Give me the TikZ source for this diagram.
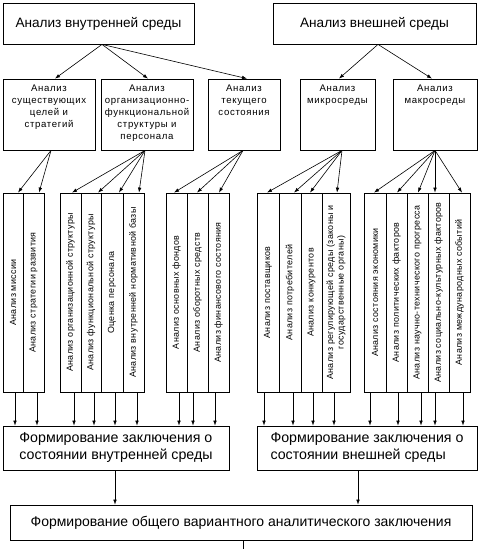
\documentclass[tikz,border=0pt]{standalone}
\usepackage{fontspec}
\setmainfont{Liberation Sans}
\newfontfamily\spacedA[LetterSpace=7]{Liberation Sans}
\newfontfamily\spacedB[LetterSpace=4]{Liberation Sans}
\usetikzlibrary{arrows.meta}
\tikzset{
  box/.style={draw=black, line width=0.8pt, fill=white, inner sep=0pt},
  toptext/.style={font=\fontsize{13.6}{15}\selectfont},
  midtext/.style={font=\spacedA\fontsize{9.6}{12}\selectfont, align=center, inner sep=2pt, anchor=north, yshift=-4pt},
  coltext/.style={font=\spacedB\fontsize{8.9}{10.5}\selectfont, rotate=90, align=center, inner sep=0pt},
  bottext/.style={font=\fontsize{14.2}{17}\selectfont, align=left},
  arr/.style={line width=0.6pt, -{Latex[length=5pt,width=3.6pt]}},
  ln/.style={line width=0.6pt},
}
\begin{document}
\begin{tikzpicture}[x=1pt,y=-1pt]
\useasboundingbox (0,0) rectangle (482,549);
% top
\node[box, minimum width=191, minimum height=41, toptext] (vn) at (98.5,23.5) {Анализ внутренней среды};
\node[box, minimum width=203, minimum height=41, toptext] (vs) at (374.5,23.5) {Анализ внешней среды};
% second row
\node[box, minimum width=92, minimum height=71] (b1) at (49,114.5) {};
\node[midtext] (b1t) at (b1.north) {Анализ\\существующих\\целей и\\стратегий};
\node[box, minimum width=92, minimum height=71] (b2) at (147,114.5) {};
\node[midtext] (b2t) at (b2.north) {Анализ\\организационно-\\функциональной\\структуры и\\персонала};
\node[box, minimum width=72, minimum height=71] (b3) at (244,114.5) {};
\node[midtext] (b3t) at (b3.north) {Анализ\\текущего\\состояния};
\node[box, minimum width=75, minimum height=71] (b4) at (337.5,114.5) {};
\node[midtext] (b4t) at (b4.north) {Анализ\\микросреды};
\node[box, minimum width=84, minimum height=71] (b5) at (435,114.5) {};
\node[midtext] (b5t) at (b5.north) {Анализ\\макросреды};
% columns (y from 193 to 392, center 292.5, height 199)
\def\cy{292.5}
\newcommand\colbox[4]{% name, x1, x2, text
  \pgfmathsetmacro\cw{#3-#2}\pgfmathsetmacro\cx{(#2+#3)/2}
  \node[box, minimum width=\cw, minimum height=199] (#1) at (\cx,\cy) {};
  \node[coltext] (#1t) at (#1.center) {#4};}
\colbox{a1}{3}{23}{Анализ миссии}
\colbox{a2}{23}{44}{Анализ стратегии развития}
\colbox{c1}{60}{81}{Анализ организационной структуры}
\colbox{c2}{81}{101}{Анализ функциональной структуры}
\colbox{c3}{101}{123}{Оценка персонала}
\colbox{c4}{123}{144}{Анализ внутренней нормативной базы}
\colbox{d1}{166}{187}{Анализ основных фондов}
\colbox{d2}{187}{208}{Анализ оборотных средств}
\colbox{d3}{208}{229}{Анализ финансового состояния}
\colbox{e1}{257}{279}{Анализ поставщиков}
\colbox{e2}{279}{301}{Анализ потребителей}
\colbox{e3}{301}{322}{Анализ конкурентов}
\colbox{e4}{322}{350}{Анализ регулирующей среды (законы и\\государственные органы)}
\colbox{f1}{364}{386}{Анализ состояния экономики}
\colbox{f2}{386}{407}{Анализ политических факторов}
\colbox{f3}{407}{428}{Анализ научно-технического прогресса}
\colbox{f4}{428}{449}{Анализ социально-культурных факторов}
\colbox{f5}{449}{470}{Анализ международных событий}
% conclusions
\node[box, minimum width=226, minimum height=44] (zl) at (116,448) {};
\node[bottext] (zlt) at (zl.center) {Формирование заключения о\\состоянии внутренней среды};
\node[box, minimum width=220, minimum height=44] (zr) at (367,448) {};
\node[bottext] (zrt) at (zr.center) {Формирование заключения о\\состоянии внешней среды};
\node[box, minimum width=462, minimum height=35, font=\fontsize{14}{16}\selectfont] (fin) at (241,522.5) {Формирование общего вариантного аналитического заключения};
\coordinate (end) at (243,549);
% arrows top -> second row
\draw[arr] (vn.south -| 102,0) -- (b1.north -| 55,0);
\draw[arr] (vn.south -| 102,0) -- (b2.north -| 148,0);
\draw[arr] (vn.south -| 102,0) -- (b3.north -| 247,0);
\draw[arr] (vs.south -| 378,0) -- (b4.north -| 339,0);
\draw[arr] (vs.south -| 378,0) -- (b5.north -| 432,0);
% second row -> columns
\draw[arr] (b1.south -| 51,0) -- (a1.north -| 18,0);
\draw[arr] (b1.south -| 51,0) -- (a2.north -| 39,0);
\draw[arr] (b2.south -| 145,0) -- (c1.north -| 72,0);
\draw[arr] (b2.south -| 145,0) -- (c2.north -| 98,0);
\draw[arr] (b2.south -| 145,0) -- (c3.north -| 119,0);
\draw[arr] (b2.south -| 145,0) -- (c4.north -| 139,0);
\draw[arr] (b3.south -| 243,0) -- (d1.north -| 174,0);
\draw[arr] (b3.south -| 243,0) -- (d2.north -| 197,0);
\draw[arr] (b3.south -| 243,0) -- (d3.north -| 219,0);
\draw[arr] (b4.south -| 342,0) -- (e1.north -| 267,0);
\draw[arr] (b4.south -| 342,0) -- (e2.north -| 294,0);
\draw[arr] (b4.south -| 342,0) -- (e3.north -| 310,0);
\draw[arr] (b4.south -| 342,0) -- (e4.north -| 337,0);
\draw[arr] (b5.south -| 435,0) -- (f1.north -| 374,0);
\draw[arr] (b5.south -| 435,0) -- (f2.north -| 397,0);
\draw[arr] (b5.south -| 435,0) -- (f3.north -| 418,0);
\draw[arr] (b5.south -| 435,0) -- (f4.north -| 435,0);
\draw[arr] (b5.south -| 435,0) -- (f5.north -| 462,0);
% columns -> conclusions
\draw[arr] (a1.south -| 15,0) -- (zl.north -| 15,0);
\draw[arr] (a2.south -| 37,0) -- (zl.north -| 37,0);
\draw[arr] (c1.south -| 74,0) -- (zl.north -| 74,0);
\draw[arr] (c2.south -| 94,0) -- (zl.north -| 94,0);
\draw[arr] (c3.south -| 115,0) -- (zl.north -| 115,0);
\draw[arr] (c4.south -| 137,0) -- (zl.north -| 137,0);
\draw[arr] (d1.south -| 179,0) -- (zl.north -| 179,0);
\draw[arr] (d2.south -| 193,0) -- (zl.north -| 193,0);
\draw[arr] (d3.south -| 215,0) -- (zl.north -| 215,0);
\draw[arr] (e1.south -| 264,0) -- (zr.north -| 264,0);
\draw[arr] (e2.south -| 293,0) -- (zr.north -| 293,0);
\draw[arr] (e3.south -| 313,0) -- (zr.north -| 313,0);
\draw[arr] (e4.south -| 334,0) -- (zr.north -| 334,0);
\draw[arr] (f1.south -| 370,0) -- (zr.north -| 370,0);
\draw[arr] (f2.south -| 398,0) -- (zr.north -| 398,0);
\draw[arr] (f3.south -| 421,0) -- (zr.north -| 421,0);
\draw[arr] (f4.south -| 435,0) -- (zr.north -| 435,0);
\draw[arr] (f5.south -| 463,0) -- (zr.north -| 463,0);
% conclusions -> final
\draw[arr] (zl.south -| 115,0) -- (fin.north -| 115,0);
\draw[arr] (zr.south -| 358,0) -- (fin.north -| 358,0);
\draw[ln] (fin.south -| end) -- (end);
\end{tikzpicture}
\end{document}
